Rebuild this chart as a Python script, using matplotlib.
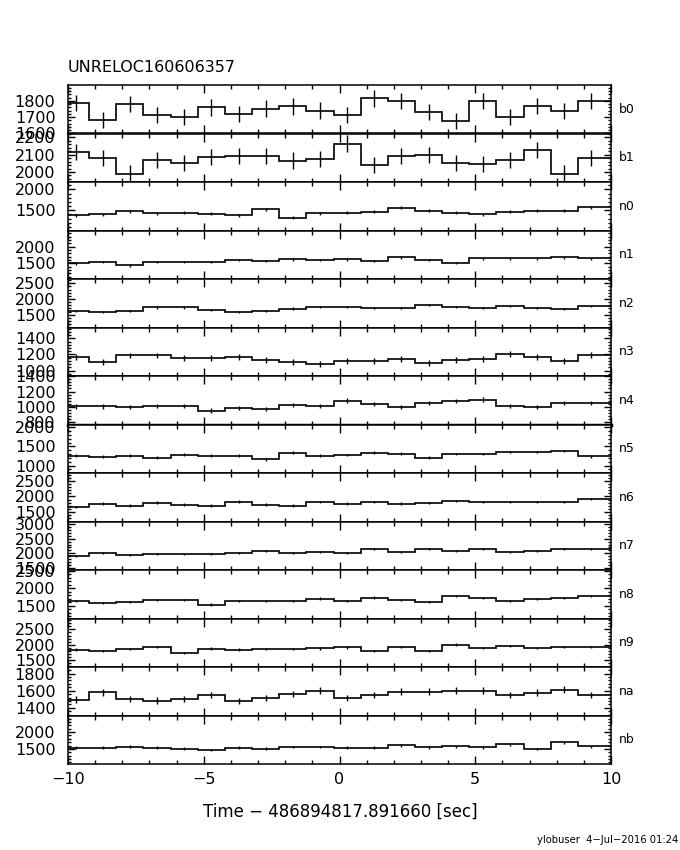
import numpy as np
import matplotlib.pyplot as plt
from matplotlib.ticker import MultipleLocator, AutoMinorLocator

# detector names, top to bottom
names = ['b0', 'b1', 'n0', 'n1', 'n2', 'n3', 'n4', 'n5', 'n6', 'n7', 'n8', 'n9', 'na', 'nb']

# 1 s bins, time relative to trigger
t_edges = np.arange(22) - 10.22
t_mid = t_edges[:-1] + 0.5

# count rates per bin [counts/s]
b0 = [1787, 1681, 1779, 1713, 1702, 1760, 1721, 1753, 1766, 1740, 1713, 1815, 1798, 1732, 1675, 1798, 1700, 1770, 1738, 1798, 1798]
b1 = [2118, 2081, 1991, 2071, 2053, 2087, 2094, 2094, 2066, 2077, 2165, 2042, 2092, 2098, 2053, 2047, 2070, 2126, 1991, 2081, 2081]
n0 = [1379, 1403, 1476, 1428, 1444, 1420, 1379, 1524, 1324, 1428, 1444, 1469, 1565, 1493, 1444, 1403, 1469, 1493, 1493, 1572, 1572]
n1 = [1500, 1539, 1440, 1539, 1539, 1539, 1599, 1569, 1620, 1599, 1620, 1569, 1680, 1599, 1509, 1650, 1650, 1650, 1680, 1650, 1650]
n2 = [1617, 1585, 1617, 1731, 1731, 1649, 1585, 1617, 1690, 1743, 1743, 1712, 1712, 1807, 1743, 1712, 1775, 1712, 1680, 1775, 1775]
n3 = [1167, 1105, 1188, 1188, 1155, 1155, 1167, 1130, 1109, 1084, 1117, 1117, 1142, 1092, 1130, 1142, 1209, 1167, 1117, 1196, 1196]
n4 = [1008, 1008, 1000, 1013, 1013, 953, 987, 974, 1026, 1013, 1081, 1038, 1000, 1051, 1077, 1093, 1013, 1000, 1051, 1051, 1051]
n5 = [1255, 1229, 1255, 1203, 1282, 1255, 1255, 1169, 1334, 1255, 1274, 1334, 1308, 1203, 1300, 1300, 1353, 1353, 1379, 1247, 1247]
n6 = [1665, 1769, 1706, 1801, 1738, 1706, 1833, 1738, 1706, 1823, 1769, 1823, 1769, 1791, 1855, 1823, 1823, 1823, 1823, 1918, 1918]
n7 = [1914, 2007, 1938, 1972, 1972, 1972, 2007, 2076, 2007, 2041, 2007, 2145, 2041, 2145, 2076, 2145, 2041, 2076, 2145, 2145, 2145]
n8 = [1633, 1576, 1604, 1661, 1661, 1520, 1633, 1633, 1633, 1697, 1633, 1726, 1661, 1604, 1774, 1717, 1633, 1689, 1717, 1774, 1774]
n9 = [1837, 1794, 1859, 1925, 1729, 1869, 1837, 1859, 1859, 1880, 1912, 1794, 1925, 1794, 2000, 1892, 1957, 1892, 1925, 1925, 1925]
na = [1496, 1580, 1504, 1484, 1504, 1550, 1481, 1516, 1562, 1600, 1516, 1550, 1588, 1588, 1600, 1600, 1550, 1577, 1612, 1550, 1550]
nb = [1536, 1536, 1566, 1536, 1506, 1467, 1536, 1506, 1557, 1557, 1536, 1536, 1607, 1548, 1577, 1548, 1637, 1497, 1697, 1577, 1577]
rates = [b0, b1, n0, n1, n2, n3, n4, n5, n6, n7, n8, n9, na, nb]

# typical 1-sigma error per detector
errs = [50, 47, 40, 40, 41, 34, 31, 36, 42, 45, 41, 43, 39, 41]

# y ranges and label steps
ylims = [(1600, 1897), (1942, 2223), (1017, 2176), (1029, 2480), (1089, 2638),
         (934, 1534), (773, 1401), (808, 2071), (1200, 2749), (1431, 3087),
         (1133, 2515), (1281, 2850), (1311, 1877), (1050, 2495)]
ysteps = [100, 100, 500, 500, 500, 200, 200, 500, 500, 500, 500, 500, 200, 500]

fig = plt.figure(figsize=(6.8, 8.5), dpi=100)

top = 1 - 85/850
bot = 1 - 764/850
h = (top - bot) / len(names)
left = 68/680
width = (611 - 68)/680

for i, name in enumerate(names):
    ax = fig.add_axes([left, top - (i+1)*h, width, h])
    ax.stairs(rates[i], t_edges, color='k', lw=1.2)
    ax.errorbar(t_mid[:20], rates[i][:20], yerr=errs[i], fmt='none',
                ecolor='k', elinewidth=1.0, capsize=0, clip_on=False)
    ax.set_xlim(-10, 10)
    ax.set_ylim(*ylims[i])
    ax.xaxis.set_major_locator(MultipleLocator(5))
    ax.xaxis.set_minor_locator(MultipleLocator(1))
    ax.yaxis.set_major_locator(MultipleLocator(ysteps[i]))
    ax.yaxis.set_minor_locator(AutoMinorLocator(5))
    ax.tick_params(axis='both', which='both', direction='in', top=True, right=True,
                   width=1.0, labelsize=11.5)
    ax.tick_params(axis='x', which='major', length=6)
    ax.tick_params(axis='x', which='minor', length=3.2)
    ax.tick_params(axis='y', which='major', length=5, pad=9)
    ax.tick_params(axis='y', which='minor', length=2.5)
    for s in ax.spines.values():
        s.set_linewidth(1.1)
    if i < len(names) - 1:
        ax.tick_params(axis='x', labelbottom=False)
    else:
        ax.tick_params(axis='x', pad=6)
    if name == 'n4':
        ax.spines['bottom'].set_linewidth(2.5)
    ax.text(1.0147, 0.5, name, transform=ax.transAxes, va='center', ha='left', fontsize=9)

fig.text(left, 1 - 68/850, 'UNRELOC160606357', ha='left', va='center', fontsize=11.5)
fig.text(0.5, 1 - 812/850, 'Time \u2212 486894817.891660 [sec]', ha='center', va='center', fontsize=12)
fig.text(0.997, 1 - 840/850, 'ylobuser  4\u2212Jul\u22122016 01:24', ha='right', va='center', fontsize=7.2)

plt.savefig('out.png', dpi=100)
